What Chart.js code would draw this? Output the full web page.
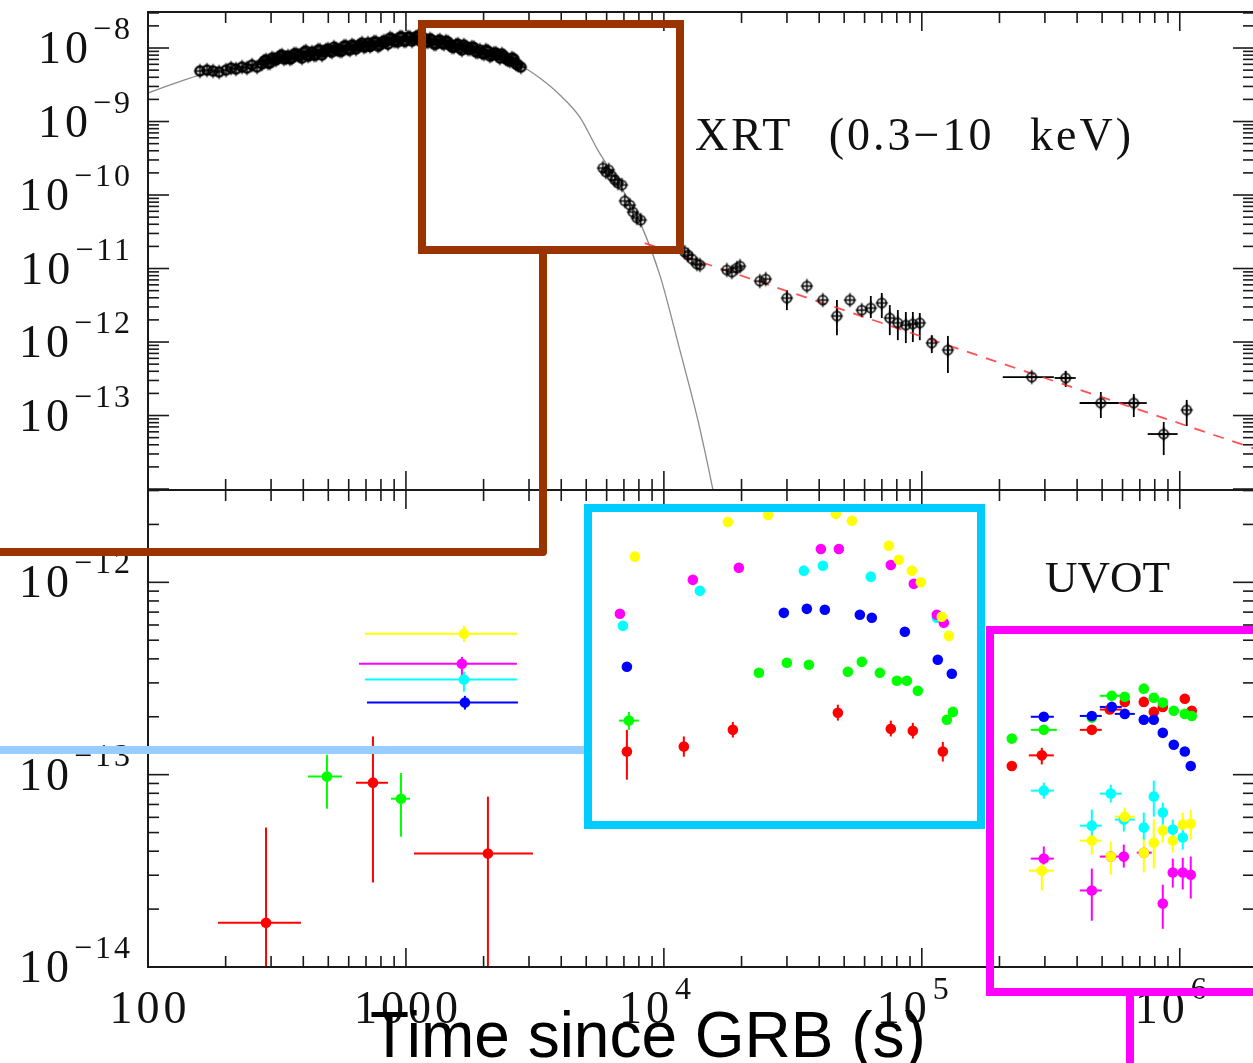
<!DOCTYPE html>
<html>
<head>
<meta charset="utf-8">
<script src="https://cdn.jsdelivr.net/npm/chart.js"></script>
<style>
  body { margin: 0; background: #fff; overflow: hidden; }
  #wrap { position: relative; width: 1253px; height: 1063px; overflow: hidden; }
  canvas, svg { position: absolute; left: 0; top: 0; }
</style>
</head>
<body>
<div id="wrap">
  <canvas id="xrtChart" width="1260" height="1063"></canvas>
  <canvas id="uvotChart" width="1260" height="1063"></canvas>
  <svg width="1253" height="1063">
    <polyline points="0,552 543,552 543,250" fill="none" stroke="#993300" stroke-width="8" stroke-linejoin="round"/>
    <rect x="422" y="24" width="258" height="226" fill="none" stroke="#993300" stroke-width="8"/>
    <line x1="0" y1="750" x2="588" y2="750" stroke="#99ccff" stroke-width="8"/>
    <rect x="588" y="508" width="393" height="317" fill="none" stroke="#00ccff" stroke-width="8"/>
    <rect x="990" y="630" width="400" height="362" fill="none" stroke="#ff00ff" stroke-width="8"/>
    <line x1="1130" y1="992" x2="1130" y2="1063" stroke="#ff00ff" stroke-width="8"/>
  </svg>
  <canvas id="titleLayer" width="1253" height="1063"></canvas>
</div>
<script>
// axis ranges and tick labels
const timeRange = [100, 1.94e6];
const xrtRange = [9.7e-15, 3.09e-8];
const uvotRange = [1.0e-14, 3.02e-12];
const xTickValues = [100, 1000, 1e4, 1e5, 1e6];
const xTickLabels = ['100', '1000', '10^4', '10^5', '10^6'];
const xrtTickValues = [1e-8, 1e-9, 1e-10, 1e-11, 1e-12, 1e-13];
const xrtTickLabels = ['10^-8', '10^-9', '10^-10', '10^-11', '10^-12', '10^-13'];
const uvotTickValues = [1e-12, 1e-13, 1e-14];
const uvotTickLabels = ['10^-12', '10^-13', '10^-14'];

// XRT early dense light curve (s, erg/cm2/s)
const xrtEarlyTime = [159, 169.3, 178.6, 188.5, 200.6, 209.8, 219.3, 231.4, 241.9, 253.0, 264.6,
  276.6, 286.8, 297.1, 307.9, 319.0, 330.6, 342.6, 355.1, 368.0, 381.4, 395.3, 409.7, 424.6, 440.0,
  456.0, 472.5, 489.7, 507.5, 526.0, 545.1, 564.9, 585.5, 606.8, 628.8, 651.6, 675.3, 699.8, 725.3,
  751.6, 778.9, 807.2, 836.6, 867.0, 898.5, 931.1, 965.0, 1000, 1036, 1074, 1113, 1153, 1195, 1239,
  1284, 1330, 1379, 1429, 1481, 1535, 1591, 1648, 1708, 1770, 1834, 1901, 1970, 2042, 2116, 2193,
  2273, 2355, 2441, 2530, 2622, 2717, 2791,
  281.7, 291.9, 302.5, 313.4, 324.8, 336.5, 348.8, 361.5, 374.6, 388.3, 402.4, 417.1, 432.2, 447.9,
  464.2, 481.0, 498.5, 516.7, 535.5, 554.9, 575.1, 596.0, 617.7, 640.1, 663.3, 687.4, 712.4, 738.3,
  765.1, 792.9, 821.8, 851.7, 882.6, 914.6, 947.9, 982.4, 1018, 1055, 1093, 1133, 1174, 1217, 1261,
  1307, 1354, 1404, 1455, 1508, 1563, 1619, 1678, 1739, 1802, 1867, 1935, 2006, 2079, 2154, 2233,
  2314, 2398, 2485, 2576, 2669];
const xrtEarlyFlux = [4.87e-9, 5.02e-9, 4.87e-9, 4.72e-9, 5.02e-9, 5.34e-9, 5.18e-9, 5.51e-9, 5.34e-9, 5.87e-9, 5.51e-9,
  6.06e-9, 6.87e-9, 6.25e-9, 7.09e-9, 7.31e-9, 8.03e-9, 7.31e-9, 7.09e-9, 8.29e-9, 8.03e-9, 7.31e-9, 9.10e-9, 8.03e-9, 8.03e-9,
  9.39e-9, 8.03e-9, 9.39e-9, 9.10e-9, 1.03e-8, 9.39e-9, 9.10e-9, 1.065e-8, 9.39e-9, 1.065e-8, 1.06e-8, 1.17e-8, 1.065e-8, 1.05e-8,
  1.21e-8, 1.06e-8, 1.20e-8, 1.21e-8, 1.37e-8, 1.245e-8, 1.21e-8, 1.41e-8, 1.25e-8, 1.40e-8, 1.33e-8, 1.46e-8, 1.25e-8, 1.21e-8, 1.33e-8,
  1.13e-8, 1.245e-8, 1.17e-8, 1.24e-8, 1.10e-8, 1.03e-8, 1.13e-8, 9.39e-9, 1.03e-8, 9.69e-9, 1.02e-8, 8.82e-9, 8.55e-9, 9.39e-9, 7.78e-9,
  8.5e-9, 8.03e-9, 8.29e-9, 7.09e-9, 6.65e-9, 7.09e-9, 5.87e-9, 5.51e-9,
  6.65e-9, 6.25e-9, 7.31e-9, 6.87e-9, 7.78e-9, 7.09e-9, 7.78e-9, 7.31e-9, 8.29e-9, 7.78e-9, 8.82e-9, 7.78e-9, 8.82e-9, 8.03e-9,
  9.39e-9, 8.82e-9, 9.69e-9, 8.82e-9, 9.69e-9, 9.10e-9, 1.065e-8, 9.69e-9, 1.10e-8, 9.69e-9, 1.10e-8, 1.03e-8, 1.17e-8, 1.10e-8,
  1.21e-8, 1.10e-8, 1.245e-8, 1.13e-8, 1.33e-8, 1.245e-8, 1.41e-8, 1.245e-8, 1.41e-8, 1.245e-8, 1.41e-8, 1.245e-8, 1.37e-8, 1.21e-8, 1.285e-8,
  1.13e-8, 1.285e-8, 1.13e-8, 1.21e-8, 1.03e-8, 1.10e-8, 1.0e-8, 1.10e-8, 9.69e-9, 1.03e-8, 8.82e-9, 9.39e-9, 8.29e-9, 9.10e-9, 8.03e-9, 8.55e-9,
  7.31e-9, 7.78e-9, 6.87e-9, 7.31e-9, 6.06e-9];

// XRT later points: [time, flux, timeLo, timeHi, fluxLo, fluxHi]
const xrtLate = [
  [5802, 2.33e-10], [5956, 2.06e-10], [6118, 2.19e-10], [6285, 1.82e-10], [6456, 1.60e-10], [6632, 1.46e-10],
  [6873, 1.37e-10], [7059, 8.3e-11], [7385, 7.3e-11], [7584, 5.87e-11], [7858, 4.87e-11], [8137, 4.57e-11],
  [12050, 1.67e-11], [12390, 1.53e-11], [12840, 1.35e-11], [13430, 1.15e-11], [13790, 1.12e-11],
  [17540, 9.55e-12], [18350, 8.96e-12], [19200, 1.02e-11], [19730, 1.08e-11],
  [23550, 6.76e-12], [24840, 7.19e-12],
  [29980, 3.97e-12, null, null, 2.72e-12, 5.09e-12],
  [35840, 5.78e-12],
  [41320, 3.73e-12],
  [46870, 2.26e-12, null, null, 1.24e-12, 3.73e-12],
  [52620, 3.73e-12],
  [58510, 2.72e-12],
  [63420, 2.90e-12, null, null, 2.12e-12, 4.23e-12],
  [69950, 3.40e-12, null, null, 2.12e-12, 4.65e-12],
  [75130, 2.12e-12, null, null, 1.24e-12, 3.18e-12],
  [80720, 1.82e-12, null, null, 1.06e-12, 2.72e-12],
  [86700, 1.70e-12, null, null, 9.68e-13, 2.56e-12],
  [92300, 1.76e-12, null, null, 1.00e-12, 2.56e-12],
  [98200, 1.82e-12, null, null, 1.06e-12, 2.48e-12],
  [109300, 9.7e-13, null, null, 7.08e-13, 1.24e-12],
  [126200, 7.8e-13, null, null, 3.79e-13, 1.21e-12],
  [266800, 3.34e-13, 206000, 325000],
  [361200, 3.24e-13, 327000, 395000, 2.44e-13, 4.03e-13],
  [494300, 1.48e-13, 409000, 585000, 9.25e-14, 2.09e-13],
  [663300, 1.48e-13, 585000, 745000, 9.55e-14, 1.96e-13],
  [866600, 5.6e-14, 751000, 981000, 2.90e-14, 8.17e-14],
  [1064000, 1.19e-13, null, null, 7.19e-14, 1.63e-13]
];

// model curve through the early emission and its steep decay
const modelTime = [100, 159, 272, 436, 590.6, 793, 1009, 1273, 1663, 2253, 2766, 3303, 3953, 4722, 5546, 6745, 8072, 9640, 11530, 13540, 15490, 16480];
const modelFlux = [2.44e-9, 4.29e-9, 6.06e-9, 8.55e-9, 1.0e-8, 1.17e-8, 1.285e-8, 1.245e-8, 1.03e-8, 8.03e-9, 5.87e-9, 3.9e-9, 2.3e-9, 1.15e-9, 4.09e-10, 1.37e-10, 4.3e-11, 8.2e-12, 7.8e-13, 8.7e-14, 9.8e-15, 3.2e-15];

// power-law decline
const powerLawTime = [8430, 3.16e6];
const powerLawFlux = [2.22e-11, 2.0e-14];

// UVOT filters: [time, flux, timeLo, timeHi, fluxLo, fluxHi]
const uvotRed = [
  [286.8, 1.70e-14, 186.7, 391.7, 5e-15, 5.31e-14],
  [744.9, 9.09e-14, 640.2, 851.7, 2.75e-14, 1.58e-13],
  [2079, 3.89e-14, 1074, 3106, 5e-15, 7.69e-14],
  [7188, 1.32e-13, null, null, 9.42e-14, 1.71e-13],
  [11950, 1.40e-13, null, null, 1.24e-13, 1.58e-13],
  [18510, 1.71e-13, null, null, 1.56e-13, 1.88e-13],
  [47260, 2.10e-13, null, null, 1.91e-13, 2.31e-13],
  [75820, 1.73e-13, null, null, 1.58e-13, 1.91e-13],
  [92290, 1.69e-13, null, null, 1.54e-13, 1.86e-13],
  [120600, 1.32e-13, null, null, 1.17e-13, 1.48e-13],
  [223300, 1.11e-13],
  [291800, 1.26e-13, 259800, 324900, 1.13e-13, 1.38e-13],
  [456000, 1.71e-13, 409700, 498500],
  [535400, 2.18e-13, 489700, 596100],
  [612100, 2.39e-13], [725300, 2.39e-13], [793000, 2.12e-13], [859400, 2.25e-13],
  [1046000, 2.48e-13], [1113000, 2.15e-13]
];
const uvotGreen = [
  [494.1, 9.77e-14, 417.1, 564.9, 6.65e-14, 1.27e-13],
  [956.4, 7.50e-14, 874.9, 1036, 4.76e-14, 1.02e-13],
  [7316, 1.91e-13, 6693, 8001, 1.71e-13, 2.12e-13],
  [23350, 3.39e-13], [29980, 3.82e-13], [36480, 3.73e-13], [51670, 3.43e-13], [58540, 3.86e-13],
  [68740, 3.39e-13], [80000, 3.08e-13], [87480, 3.08e-13], [96500, 2.73e-13], [125000, 1.93e-13], [131900, 2.12e-13],
  [223300, 1.54e-13],
  [297100, 1.71e-13, 264500, 333700],
  [456000, 1.98e-13],
  [545000, 2.57e-13, 489700, 596100],
  [612100, 2.54e-13], [725300, 2.80e-13], [793000, 2.51e-13], [859400, 2.37e-13],
  [947900, 2.15e-13], [1046000, 2.07e-13], [1113000, 2.02e-13]
];
const uvotBlue = [
  [1693, 2.37e-13, 706.1, 2717, 2.18e-13, 2.57e-13],
  [7188, 3.64e-13], [29180, 6.94e-13], [35830, 7.28e-13], [42070, 7.20e-13], [57500, 6.78e-13],
  [63990, 6.54e-13], [85940, 5.53e-13], [115300, 3.96e-13], [130700, 3.35e-13],
  [297100, 2.00e-13, 264500, 324900],
  [456000, 2.02e-13, 409700, 498500],
  [545000, 2.25e-13, 489700, 596100],
  [612100, 2.07e-13, 559800, 669300],
  [725300, 1.93e-13], [793000, 1.93e-13], [859400, 1.65e-13], [947900, 1.43e-13],
  [1046000, 1.32e-13], [1103000, 1.11e-13]
];
const uvotCyan = [
  [1678, 3.12e-13, 693.5, 2693, 2.70e-13, 3.43e-13],
  [6936, 5.94e-13], [13790, 9.03e-13], [34880, 1.15e-12], [41330, 1.22e-12], [63420, 1.07e-12], [114300, 6.54e-13],
  [297100, 8.26e-14, 264500, 324900, 7.50e-14, 9.09e-14],
  [456000, 5.43e-14, 409700, 498500, 4.49e-14, 6.58e-14],
  [540200, 7.97e-14, 489700, 596100, 7.16e-14, 8.87e-14],
  [606700, 5.84e-14, 559800, 669300, 5.06e-14, 6.35e-14],
  [725300, 5.31e-14, null, null, 4.60e-14, 6.35e-14],
  [793000, 7.69e-14, null, null, 6.05e-14, 9.31e-14],
  [859400, 6.35e-14, null, null, 5.50e-14, 7.16e-14],
  [939500, 5.18e-14, null, null, 4.60e-14, 5.84e-14],
  [1027000, 4.71e-14, null, null, 4.08e-14, 5.18e-14]
];
const uvotMagenta = [
  [1648, 3.77e-13, 657.5, 2693, 3.23e-13, 4.10e-13],
  [6753, 6.86e-13], [12950, 1.03e-12], [19530, 1.19e-12], [40600, 1.49e-12], [47690, 1.49e-12],
  [75820, 1.23e-12], [93110, 9.82e-13], [114300, 6.78e-13], [121700, 6.16e-13],
  [297100, 3.66e-14, 264500, 324900, 3.41e-14, 4.23e-14],
  [456000, 2.50e-14, 409700, 498500, 1.74e-14, 3.25e-14],
  [540200, 3.75e-14, 489700, 596100],
  [606700, 3.75e-14, null, null, 3.29e-14, 4.33e-14],
  [725300, 3.93e-14, 681400, 778900],
  [859400, 2.14e-14, null, null, 1.58e-14, 2.68e-14],
  [939500, 3.10e-14, null, null, 2.59e-14, 3.66e-14],
  [1027000, 3.10e-14, null, null, 2.53e-14, 3.70e-14],
  [1103000, 3.02e-14, null, null, 2.27e-14, 3.75e-14]
];
const uvotYellow = [
  [1678, 5.40e-13, 693.5, 2693, 4.91e-13, 5.94e-13],
  [7720, 1.36e-12], [17710, 2.06e-12], [25310, 2.24e-12], [46420, 2.27e-12], [53560, 2.09e-12],
  [74480, 1.55e-12], [81450, 1.31e-12], [91460, 1.15e-12], [99110, 1.0e-12], [119500, 6.62e-13], [127300, 5.27e-13],
  [291800, 3.17e-14, 259800, 324900, 2.50e-14, 3.79e-14],
  [456000, 4.54e-14, 409700, 498500, 3.84e-14, 5.31e-14],
  [540200, 3.75e-14, 489700, 596100, 3.02e-14, 4.49e-14],
  [612100, 6.05e-14, 559800, 669300, 5.18e-14, 6.74e-14],
  [725300, 3.93e-14, null, null, 3.10e-14, 4.71e-14],
  [793000, 4.43e-14, null, null, 3.25e-14, 5.84e-14],
  [859400, 5.12e-14, null, null, 4.43e-14, 6.42e-14],
  [939500, 4.54e-14, null, null, 3.93e-14, 5.18e-14],
  [1027000, 5.50e-14, null, null, 4.54e-14, 6.35e-14],
  [1103000, 5.56e-14, null, null, 4.60e-14, 6.58e-14]
];

const serif = '"Liberation Serif", "Times New Roman", serif';

// open circle with a small cross, like the XRT symbols
function makeRing(width) {
  const c = document.createElement('canvas');
  c.width = 17; c.height = 17;
  const g = c.getContext('2d');
  g.strokeStyle = '#000'; g.lineWidth = width;
  g.beginPath(); g.arc(8.5, 8.5, 4.5, 0, 2 * Math.PI); g.stroke();
  g.lineWidth = 1.5;
  g.beginPath(); g.moveTo(8.5, 1.5); g.lineTo(8.5, 15.5); g.moveTo(2.5, 8.5); g.lineTo(14.5, 8.5); g.stroke();
  return c;
}
const ring = makeRing(1.6);
const ringBold = makeRing(2.4);

function rowsToSet(rows, color) {
  return {
    data: rows.map(r => ({x: r[0], y: r[1]})),
    errors: rows.map(r => [r[2], r[3], r[4], r[5]]),
    backgroundColor: color,
    errorColor: color,
    pointRadius: 5.3,
    borderWidth: 0
  };
}

function line(ctx, x1, y1, x2, y2) {
  ctx.beginPath(); ctx.moveTo(x1, y1); ctx.lineTo(x2, y2); ctx.stroke();
}

const errorBars = {
  id: 'errorBars',
  beforeDatasetsDraw(chart) {
    const {ctx, chartArea: a} = chart;
    const xs = chart.scales.x, ys = chart.scales.y;
    ctx.save();
    ctx.beginPath(); ctx.rect(a.left, a.top, a.right - a.left, a.bottom - a.top); ctx.clip();
    chart.data.datasets.forEach(ds => {
      if (!ds.errors) return;
      ctx.strokeStyle = ds.errorColor;
      ctx.lineWidth = ds.errorWidth || 2;
      ds.errors.forEach((e, j) => {
        const p = ds.data[j];
        const px = xs.getPixelForValue(p.x), py = ys.getPixelForValue(p.y);
        if (e[0] != null) line(ctx, xs.getPixelForValue(e[0]), py, xs.getPixelForValue(e[1]), py);
        if (e[2] != null) line(ctx, px, ys.getPixelForValue(e[2]), px, ys.getPixelForValue(e[3]));
      });
    });
    ctx.restore();
  }
};

function drawPow(ctx, label, x, y, mode) {
  const parts = label.split('^');
  ctx.font = '46px ' + serif;
  ctx.letterSpacing = '4px';
  ctx.textBaseline = 'alphabetic';
  const wBase = ctx.measureText(parts[0]).width - 4;
  if (parts.length === 1) {
    ctx.textAlign = 'left';
    ctx.fillText(parts[0], x - wBase / 2, y + 15);
    return;
  }
  const exp = parts[1].replace('-', '\u2212');
  ctx.font = '32px ' + serif;
  ctx.letterSpacing = '3px';
  const wExp = ctx.measureText(exp).width - 3;
  ctx.textAlign = 'left';
  let bx, ex;
  if (mode === 'y') { ex = x - wExp; bx = ex - 5 - wBase; }
  else { bx = x + 5 - wBase; ex = x + 11; }
  ctx.fillText(exp, ex, y - 9);
  ctx.font = '46px ' + serif;
  ctx.letterSpacing = '4px';
  ctx.fillText(parts[0], bx, y + 15);
}

const frameTicks = {
  id: 'frameTicks',
  afterDraw(chart, args, opts) {
    const {ctx, chartArea: a} = chart;
    const xs = chart.scales.x, ys = chart.scales.y;
    ctx.save();
    ctx.strokeStyle = '#1a1a1a';
    ctx.lineWidth = 2;
    ctx.strokeRect(a.left, a.top, a.right - a.left, a.bottom - a.top);
    ctx.lineWidth = 1.6;
    for (let e = Math.floor(Math.log10(xs.min)); e <= Math.ceil(Math.log10(xs.max)); e++) {
      for (let m = 1; m < 10; m++) {
        const v = m * Math.pow(10, e);
        if (v < xs.min || v > xs.max) continue;
        const p = xs.getPixelForValue(v);
        const len = m === 1 ? 19 : 11;
        line(ctx, p, a.top, p, a.top + len);
        line(ctx, p, a.bottom, p, a.bottom - len);
      }
    }
    for (let e = Math.floor(Math.log10(ys.min)); e <= Math.ceil(Math.log10(ys.max)); e++) {
      for (let m = 1; m < 10; m++) {
        const v = m * Math.pow(10, e);
        if (v < ys.min || v > ys.max) continue;
        const p = ys.getPixelForValue(v);
        const len = m === 1 ? 21 : 11;
        line(ctx, a.left, p, a.left + len, p);
        line(ctx, a.right, p, a.right - len, p);
      }
    }
    ctx.fillStyle = '#111';
    opts.yValues.forEach((v, i) => drawPow(ctx, opts.yLabels[i], 130, ys.getPixelForValue(v), 'y'));
    if (opts.xLabels) {
      opts.xValues.forEach((v, i) => drawPow(ctx, opts.xLabels[i], xs.getPixelForValue(v), 1008, 'x'));
    }
    const pl = opts.panelLabel;
    ctx.font = pl.size + 'px ' + serif;
    ctx.letterSpacing = pl.spacing;
    ctx.wordSpacing = pl.wordSpacing;
    ctx.textAlign = 'left';
    ctx.fillText(pl.text, pl.x, pl.y);
    ctx.restore();
  }
};

function baseOptions(padding, yRange, frameOpts) {
  return {
    responsive: false,
    animation: false,
    devicePixelRatio: 1,
    layout: {padding},
    plugins: {legend: {display: false}, tooltip: {enabled: false}, frameTicks: frameOpts},
    scales: {
      x: {type: 'logarithmic', min: timeRange[0], max: timeRange[1], display: false},
      y: {type: 'logarithmic', min: yRange[0], max: yRange[1], display: false}
    }
  };
}

new Chart(document.getElementById('xrtChart'), {
  type: 'scatter',
  data: {
    datasets: [
      {
        data: xrtLate.map(r => ({x: r[0], y: r[1]})),
        errors: xrtLate.map(r => [r[2], r[3], r[4], r[5]]),
        errorColor: '#000', errorWidth: 1.8,
        pointStyle: ring, pointRadius: 5
      },
      {
        data: xrtEarlyTime.map((t, i) => ({x: t, y: xrtEarlyFlux[i]})),
        pointStyle: ringBold, pointRadius: 5
      },
      {
        data: powerLawTime.map((t, i) => ({x: t, y: powerLawFlux[i]})),
        showLine: true, pointRadius: 0, borderColor: 'rgba(255,50,50,0.85)', borderWidth: 1.8, borderDash: [11, 9]
      },
      {
        data: modelTime.map((t, i) => ({x: t, y: modelFlux[i]})),
        showLine: true, pointRadius: 0, borderColor: '#8c8c8c', borderWidth: 1.3, cubicInterpolationMode: 'monotone'
      }
    ]
  },
  options: baseOptions({left: 148, right: 6, top: 12, bottom: 573}, xrtRange, {
    yValues: xrtTickValues, yLabels: xrtTickLabels, xLabels: null,
    panelLabel: {text: 'XRT (0.3\u221210 keV)', x: 695, y: 150, size: 46, spacing: '3px', wordSpacing: '21px'}
  }),
  plugins: [errorBars, frameTicks]
});

new Chart(document.getElementById('uvotChart'), {
  type: 'scatter',
  data: {
    datasets: [
      rowsToSet(uvotYellow, '#ffff00'),
      rowsToSet(uvotMagenta, '#ff00ff'),
      rowsToSet(uvotCyan, '#00ffff'),
      rowsToSet(uvotBlue, '#0000ff'),
      rowsToSet(uvotGreen, '#00ff00'),
      rowsToSet(uvotRed, '#ff0000')
    ]
  },
  options: baseOptions({left: 148, right: 6, top: 490, bottom: 96}, uvotRange, {
    yValues: uvotTickValues, yLabels: uvotTickLabels, xValues: xTickValues, xLabels: xTickLabels,
    panelLabel: {text: 'UVOT', x: 1045, y: 592, size: 45, spacing: '0px', wordSpacing: '0px'}
  }),
  plugins: [errorBars, frameTicks]
});

// axis title sits above the overlays
const tctx = document.getElementById('titleLayer').getContext('2d');
tctx.fillStyle = '#000';
tctx.font = '64px "Liberation Sans", Arial, sans-serif';
tctx.fillText('Time since GRB (s)', 370, 1057);
</script>
</body>
</html>
